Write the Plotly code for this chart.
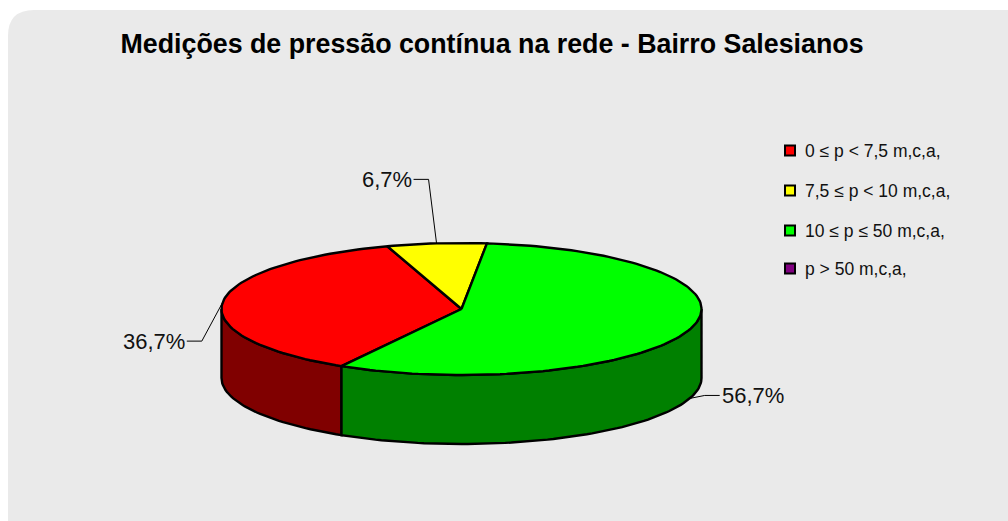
import math
import plotly.graph_objects as go

TITLE = "Medições de pressão contínua na rede - Bairro Salesianos"
categories = ["0 ≤ p < 7,5 m,c,a,", "7,5 ≤ p < 10 m,c,a,", "10 ≤ p ≤ 50 m,c,a,", "p > 50 m,c,a,"]
values = [36.7, 6.7, 56.7, 0.0]
labels = ["36,7%", "6,7%", "56,7%", ""]
top_colors = ["#FF0000", "#FFFF00", "#00FF00", "#800080"]
side_colors = ["#800000", "#808000", "#008000", "#400040"]

W, H = 1008, 521
CX, CY, RX, RY, DEPTH = 461.5, 309.0, 240.0, 66.0, 69.0
START = 210.0
EDGE = 2.4


def pt(deg, dy=0.0):
    a = math.radians(deg)
    return CX + RX * math.sin(a), CY - RY * math.cos(a) + dy


def arc(a0, a1, dy=0.0):
    n = max(2, int(abs(a1 - a0) / 1.5))
    pts = [pt(a0 + (a1 - a0) * i / n, dy) for i in range(n + 1)]
    return [p[0] for p in pts], [p[1] for p in pts]


total = sum(values)
spans = []
a = START
for v in values:
    s = v / total * 360
    spans.append((a, a + s))
    a += s

fig = go.Figure()

# front walls: only the part of the rim between 90 and 270 degrees is visible
for (a0, a1), col in zip(spans, side_colors):
    for shift in (0, 360, -360):
        lo, hi = max(a0 + shift, 90), min(a1 + shift, 270)
        if hi > lo:
            x1, y1 = arc(lo, hi)
            x2, y2 = arc(hi, lo, DEPTH)
            fig.add_trace(go.Scatter(x=x1 + x2 + x1[:1], y=y1 + y2 + y1[:1], mode="lines", fill="toself",
                                     fillcolor=col, line=dict(color="black", width=EDGE),
                                     showlegend=False, hoverinfo="skip"))

# top faces
for (a0, a1), col, v in zip(spans, top_colors, values):
    if v <= 0:
        continue
    x, y = arc(a0, a1)
    fig.add_trace(go.Scatter(x=[CX] + x + [CX], y=[CY] + y + [CY], mode="lines", fill="toself",
                             fillcolor=col, line=dict(color="black", width=EDGE),
                             showlegend=False, hoverinfo="skip"))

# leader lines and data labels, anchored at each slice's mid angle
label_offsets = [(-21, 39), (-8, -64), (15, -3), None]
text_anchor = ["right", "right", "left", "left"]
for (a0, a1), lab, off, anc in zip(spans, labels, label_offsets, text_anchor):
    if not lab:
        continue
    mid = (a0 + a1) / 2
    m = mid % 360
    dy = DEPTH if 90 < m < 270 else 0
    ax, ay = pt(mid, dy)
    ex, ey = ax + off[0], ay + off[1]
    sign = -1 if anc == "right" else 1
    tx = ex + sign * 15
    fig.add_trace(go.Scatter(x=[ax, ex, tx], y=[ay, ey, ey], mode="lines",
                             line=dict(color="black", width=1), showlegend=False, hoverinfo="skip"))
    fig.add_annotation(x=tx, y=ey, text=lab, showarrow=False, xanchor=anc, yanchor="middle",
                       font=dict(size=22, color="#111111", family="Liberation Sans"))

# legend: swatches as markers, names as text, spaced like the reference
LEG_X = 790
leg_y = [150.5, 190.5, 230.5, 268.5]
fig.add_trace(go.Scatter(x=[LEG_X] * len(categories), y=leg_y, mode="markers", showlegend=False, hoverinfo="skip",
                         marker=dict(symbol="square", size=10, color=top_colors, line=dict(color="black", width=2))))
for name, y in zip(categories, leg_y):
    fig.add_annotation(x=LEG_X + 13, y=y, text=name, showarrow=False, xanchor="left", yanchor="middle",
                       font=dict(size=17.5, color="#111111", family="Liberation Sans"))

# rounded panel
x0, y0, r = 8, 10, 26
panel = (f"M{x0},{H+20} L{x0},{y0+r} Q{x0},{y0} {x0+r},{y0} L{W+20},{y0} L{W+20},{H+20} Z")

fig.update_layout(
    width=W, height=H, margin=dict(l=0, r=0, t=0, b=0),
    paper_bgcolor="white", plot_bgcolor="rgba(0,0,0,0)",
    xaxis=dict(range=[0, W], visible=False, fixedrange=True),
    yaxis=dict(range=[H, 0], visible=False, fixedrange=True),
    shapes=[dict(type="path", path=panel, xref="x", yref="y", fillcolor="#EAEAEA", line=dict(width=0), layer="below")],
    title=dict(text=f"<b>{TITLE}</b>", x=492 / W, xanchor="center", y=1 - 44 / H, yanchor="middle",
               font=dict(size=26.8, color="black", family="Liberation Sans")),
    showlegend=False,
)

fig.write_html("out.html", config=dict(displayModeBar=False),
               post_script="document.body.style.margin='0';window.dispatchEvent(new Event('resize'));")
